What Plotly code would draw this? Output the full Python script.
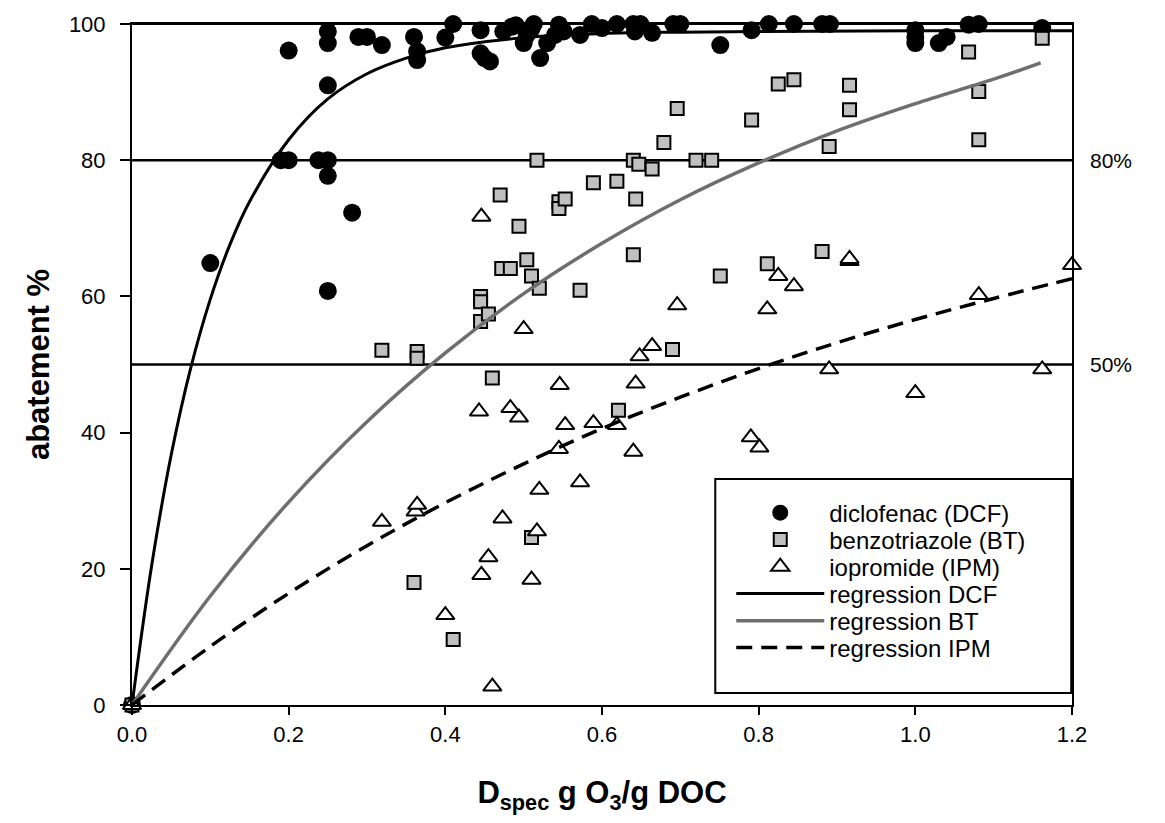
import plotly.graph_objects as go

# ---- data ----
dcf_x = [0.0, 0.10, 0.19, 0.20, 0.20, 0.238, 0.25, 0.25, 0.25, 0.25, 0.25, 0.25, 0.281,
         0.289, 0.30, 0.319, 0.36, 0.364, 0.364, 0.40, 0.41, 0.445, 0.445, 0.45, 0.457,
         0.474, 0.485, 0.49, 0.50, 0.504, 0.513, 0.51, 0.521, 0.53, 0.54, 0.545, 0.551,
         0.572, 0.587, 0.60, 0.619, 0.64, 0.642, 0.649, 0.664, 0.691, 0.70, 0.751,
         0.791, 0.813, 0.845, 0.881, 0.891, 1.0, 1.0, 1.0, 1.03, 1.04, 1.068, 1.081, 1.162]
dcf_y = [0.0, 64.9, 80.0, 80.0, 96.1, 80.0, 80.0, 77.7, 60.8, 91.0, 97.2, 98.9, 72.3,
         98.1, 98.1, 96.9, 98.1, 96.0, 94.7, 98.0, 100.0, 99.1, 95.7, 95.0, 94.5,
         98.9, 99.6, 99.8, 97.2, 98.4, 100.0, 99.3, 95.0, 97.2, 98.4, 99.9, 98.9,
         98.4, 100.0, 99.4, 100.0, 100.0, 98.9, 100.0, 98.7, 100.0, 100.0, 96.9,
         99.1, 100.0, 100.0, 100.0, 100.0, 99.1, 98.1, 97.2, 97.2, 98.1, 99.9, 100.0, 99.4]

bt_x = [0.0, 0.319, 0.364, 0.364, 0.36, 0.41, 0.445, 0.445, 0.445, 0.455, 0.46, 0.47,
        0.472, 0.483, 0.494, 0.504, 0.51, 0.51, 0.517, 0.52, 0.545, 0.545, 0.553, 0.572,
        0.589, 0.619, 0.621, 0.64, 0.64, 0.643, 0.647, 0.664, 0.679, 0.69, 0.696, 0.72,
        0.74, 0.751, 0.791, 0.811, 0.825, 0.845, 0.881, 0.89, 0.916, 0.916, 1.068,
        1.081, 1.081, 1.162]
bt_y = [0.0, 52.1, 51.9, 50.9, 18.0, 9.6, 60.0, 59.2, 56.3, 57.4, 48.0, 74.9,
        64.1, 64.1, 70.3, 65.4, 63.0, 24.6, 80.0, 61.2, 73.9, 72.9, 74.3, 60.9,
        76.7, 76.9, 43.3, 66.1, 80.0, 74.3, 79.4, 78.7, 82.6, 52.2, 87.6, 80.0,
        80.0, 63.0, 85.9, 64.8, 91.2, 91.8, 66.6, 82.0, 91.0, 87.4, 95.9,
        90.1, 83.0, 97.9]

ipm_x = [0.0, 0.319, 0.362, 0.364, 0.40, 0.443, 0.446, 0.446, 0.455, 0.46, 0.473,
         0.483, 0.494, 0.50, 0.51, 0.517, 0.52, 0.545, 0.546, 0.553, 0.572, 0.589,
         0.619, 0.64, 0.643, 0.648, 0.664, 0.696, 0.79, 0.801, 0.811, 0.825, 0.845,
         0.89, 0.916, 0.916, 1.0, 1.081, 1.162, 1.2]
ipm_y = [0.0, 26.9, 28.4, 29.4, 13.2, 43.1, 71.7, 19.1, 21.7, 2.7, 27.4,
         43.6, 42.2, 55.2, 18.4, 25.5, 31.6, 37.6, 47.0, 41.1, 32.7, 41.4,
         41.1, 37.2, 47.2, 51.2, 52.7, 58.7, 39.3, 37.8, 58.1, 63.0, 61.5,
         49.3, 65.2, 65.5, 45.8, 60.2, 49.3, 64.6]

# regression curves
reg_dcf_x = [0.0, 0.025, 0.05, 0.075, 0.1, 0.125, 0.15, 0.2, 0.25, 0.3, 0.35, 0.4,
             0.5, 0.6, 0.7, 0.8, 1.0, 1.2]
reg_dcf_y = [0.0, 20.4, 36.7, 49.5, 59.6, 67.6, 73.9, 83.0, 89.0, 92.7, 95.0, 96.5,
             98.0, 98.6, 98.8, 98.9, 99.0, 99.0]
reg_bt_x = [0.0, 0.1, 0.2, 0.3, 0.4, 0.5, 0.6, 0.7, 0.8, 0.9, 1.0, 1.1, 1.16]
reg_bt_y = [0.0, 16.0, 29.8, 41.6, 51.7, 60.4, 67.8, 74.2, 79.6, 84.3, 88.3, 91.9, 94.3]
reg_ipm_x = [0.0, 0.1, 0.2, 0.3, 0.4, 0.5, 0.6, 0.7, 0.8, 0.9, 1.0, 1.1, 1.2]
reg_ipm_y = [0.0, 8.6, 16.4, 23.4, 29.7, 35.4, 40.6, 45.2, 49.4, 53.2, 56.6, 59.7, 62.6]

ref_levels = [80, 50]
ref_labels = ["80%", "50%"]
x_ticks = [0.0, 0.2, 0.4, 0.6, 0.8, 1.0, 1.2]
x_ticklabels = ["0.0", "0.2", "0.4", "0.6", "0.8", "1.0", "1.2"]
y_ticks = [0, 20, 40, 60, 80, 100]

FONT = "Liberation Sans, Arial, sans-serif"

# legend layout (paper coordinates) - one legend per row to control spacing
LEG_X = 0.6375
LEG_ROWS_Y = [0.2819, 0.2423, 0.2026, 0.1630, 0.1233, 0.0837]
legend_ids = ["legend", "legend2", "legend3", "legend4", "legend5", "legend6"]

fig = go.Figure()

fig.add_trace(go.Scatter(
    x=dcf_x, y=dcf_y, mode="markers", name="diclofenac (DCF)", cliponaxis=False,
    legend=legend_ids[0],
    marker=dict(symbol="circle", size=18, color="black", line=dict(width=0))))
fig.add_trace(go.Scatter(
    x=bt_x, y=bt_y, mode="markers", name="benzotriazole (BT)", cliponaxis=False,
    legend=legend_ids[1],
    marker=dict(symbol="square", size=13, color="#c0c0c0", line=dict(width=2, color="black"))))
fig.add_trace(go.Scatter(
    x=ipm_x, y=ipm_y, mode="markers", name="iopromide (IPM)", cliponaxis=False,
    legend=legend_ids[2],
    marker=dict(symbol="triangle-up", size=16, color="white", line=dict(width=2, color="black"))))

fig.add_trace(go.Scatter(
    x=reg_dcf_x, y=reg_dcf_y, mode="lines", name="regression DCF", cliponaxis=False,
    legend=legend_ids[3],
    line=dict(color="black", width=3, shape="spline")))
fig.add_trace(go.Scatter(
    x=reg_bt_x, y=reg_bt_y, mode="lines", name="regression BT", cliponaxis=False,
    legend=legend_ids[4],
    line=dict(color="#6e6e6e", width=3.5, shape="spline")))
fig.add_trace(go.Scatter(
    x=reg_ipm_x, y=reg_ipm_y, mode="lines", name="regression IPM", cliponaxis=False,
    legend=legend_ids[5],
    line=dict(color="black", width=3.5, shape="spline", dash="16px,9px")))

for lvl, lab in zip(ref_levels, ref_labels):
    fig.add_hline(y=lvl, line=dict(color="black", width=2.5), layer="below")
    fig.add_annotation(x=1.041, xref="paper", y=lvl, yref="y", text=lab,
                       showarrow=False, xanchor="center", yanchor="middle",
                       font=dict(family=FONT, size=21, color="black"))
fig.add_hline(y=100, line=dict(color="black", width=2), layer="below")

# legend frame
fig.add_shape(type="rect", xref="paper", yref="paper",
              x0=0.6205, x1=0.9992, y0=0.0176, y1=0.3319,
              line=dict(color="black", width=2), fillcolor="white", layer="below")

legend_common = dict(xanchor="left", yanchor="middle", bgcolor="rgba(0,0,0,0)",
                     borderwidth=0, itemwidth=88,
                     font=dict(family=FONT, size=24, color="black"))
leg_kw = {}
for lid, ly in zip(legend_ids, LEG_ROWS_Y):
    leg_kw[lid] = dict(x=LEG_X, y=ly, **legend_common)

fig.update_layout(
    width=1149, height=807,
    margin=dict(l=124, r=85, t=16, b=110, autoexpand=False),
    paper_bgcolor="white", plot_bgcolor="white",
    font=dict(family=FONT, size=21, color="black"),
    showlegend=True,
    **leg_kw,
)
fig.update_xaxes(
    range=[0, 1.2], tickvals=x_ticks, ticktext=x_ticklabels, automargin=False,
    showgrid=False, zeroline=False, showline=True, linecolor="black", linewidth=2,
    mirror=True, ticks="outside", ticklen=8, tickwidth=2, tickcolor="black",
    tickfont=dict(family=FONT, size=22), ticklabelstandoff=1,
    title=dict(text="<b>D<sub>spec</sub> g O<sub>3</sub>/g DOC</b>",
               font=dict(family=FONT, size=31), standoff=36),
)
fig.update_yaxes(
    range=[0, 100], tickvals=y_ticks, automargin=False,
    showgrid=False, zeroline=False, showline=True, linecolor="black", linewidth=2,
    mirror=True, ticks="outside", ticklen=10, tickwidth=2, tickcolor="black",
    tickfont=dict(family=FONT, size=22), ticklabelstandoff=10,
    title=dict(text="<b>abatement %</b>", font=dict(family=FONT, size=31), standoff=10),
)

fig.write_html("out.html")
